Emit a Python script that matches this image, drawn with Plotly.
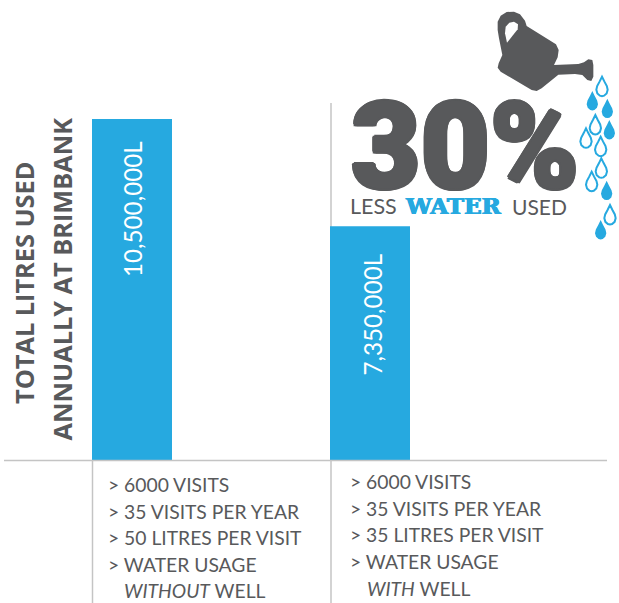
import plotly.graph_objects as go

W, H = 619, 603
categories = [0, 1]
bar_values = [10500000, 7205000]
bar_labels = ["10,500,000L", "7,350,000L"]
title_lines = ["TOTAL LITRES USED", "ANNUALLY AT BRIMBANK"]
left_notes = ["&gt; 6000 VISITS", "&gt; 35 VISITS PER YEAR", "&gt; 50 LITRES PER VISIT", "&gt; WATER USAGE", "<i>WITHOUT</i> WELL"]
right_notes = ["&gt; 6000 VISITS", "&gt; 35 VISITS PER YEAR", "&gt; 35 LITRES PER VISIT", "&gt; WATER USAGE", "<i>WITH</i> WELL"]

GREY = "#58595b"
BLUE = "#26a9e0"
LINE = "#c4c4c4"
BODY = "Lato"
px = lambda x: x / W
py = lambda y: 1 - y / H

# decorative icon geometry in page pixels
def path(points):
    return "M " + " L ".join(f"{px(x):.5f},{py(y):.5f}" for x, y in points) + " Z"

def zoomed(points):
    return [(330 + x / 3, y / 3) for x, y in points]

can = [(503,65),(512,47),(530,36),(552,35),(570,43),(585,62),(590,78),(678,133),(686,150),(683,172),(672,195),
       (745,192),(762,187),(775,178),(787,180),(790,195),(790,230),(784,243),(772,240),(757,225),(735,222),(685,224),
       (635,265),(620,273),(605,270),(512,215),(503,203),(506,190),(517,165),(507,115),(503,90)]
hole = [(531,128),(525,100),(527,80),(538,68),(552,65),(564,73),(563,88)]

def drop(cx, cy, s=1.05):
    pts = [(cx, cy - 9.5 * s), (cx + 2.2*s, cy - 5*s), (cx + 4.6*s, cy - 0.5*s), (cx + 5.4*s, cy + 3*s), (cx + 4.4*s, cy + 6.5*s),
           (cx + 2*s, cy + 8.6*s), (cx, cy + 9*s), (cx - 2*s, cy + 8.6*s), (cx - 4.4*s, cy + 6.5*s), (cx - 5.4*s, cy + 3*s),
           (cx - 4.6*s, cy - 0.5*s), (cx - 2.2*s, cy - 5*s)]
    return pts

solid_drops = [(787,303),(832,326),(838,390),(830,572),(812,690)]
open_drops = [(816,260),(796,375),(768,415),(812,440),(814,505),(785,545),(840,645)]

shapes = [
    dict(type="line", xref="paper", yref="paper", x0=px(4), x1=px(607), y0=py(460.5), y1=py(460.5), line=dict(color=LINE, width=1.5)),
    dict(type="line", xref="paper", yref="paper", x0=px(92.5), x1=px(92.5), y0=py(460), y1=py(603), line=dict(color=LINE, width=1.5)),
    dict(type="line", xref="paper", yref="paper", x0=px(331), x1=px(331), y0=py(103), y1=py(603), layer="below", line=dict(color=LINE, width=1.5)),
    dict(type="path", xref="paper", yref="paper", path=path(zoomed(can)), fillcolor=GREY, line=dict(color=GREY, width=0)),
    dict(type="path", xref="paper", yref="paper", path=path(zoomed(hole)), fillcolor="white", line=dict(color="white", width=0)),
]
for x, y in solid_drops:
    cx, cy = 330 + x / 3, y / 3
    shapes.append(dict(type="path", xref="paper", yref="paper", path=path(drop(cx, cy)), fillcolor=BLUE, line=dict(color=BLUE, width=0)))
for x, y in open_drops:
    cx, cy = 330 + x / 3, y / 3
    shapes.append(dict(type="path", xref="paper", yref="paper", path=path(drop(cx, cy)), fillcolor="white", line=dict(color=BLUE, width=2)))

def note(x, y, text, size=19.3, color=GREY, family=BODY, weight=400, angle=0, anchor="left", shadow=None):
    font = dict(family=family, size=size, color=color, weight=weight)
    if shadow:
        font["shadow"] = shadow
    return dict(xref="paper", yref="paper", x=px(x), y=py(y), text=text, showarrow=False, xanchor=anchor, yanchor="middle",
                textangle=angle, font=font, borderpad=0, borderwidth=0)

anns = []
for i, (txt, y) in enumerate(zip(left_notes, [484.5, 511.5, 537.5, 564.5, 590.5])):
    anns.append(note(124 if i == 4 else 107.5, y, txt))
for i, (txt, y) in enumerate(zip(right_notes, [481.5, 508.5, 534.5, 561.5, 588.5])):
    anns.append(note(366.5 if i == 4 else 350, y, txt))
anns.append(note(24, 283, title_lines[0], size=25.3, weight=700, angle=-90, anchor="center", family="Open Sans"))
anns.append(note(61.5, 279, title_lines[1], size=25.3, weight=700, angle=-90, anchor="center", family="Open Sans"))
anns.append(note(132, 209, bar_labels[0], size=24.2, color="white", angle=-90, anchor="center"))
anns.append(note(371.5, 315, bar_labels[1], size=24.2, color="white", angle=-90, anchor="center"))
thick = "2px 0 0 #58595b,-2px 0 0 #58595b,0 2px 0 #58595b,0 -2px 0 #58595b,1.5px 1.5px 0 #58595b,-1.5px -1.5px 0 #58595b,1.5px -1.5px 0 #58595b,-1.5px 1.5px 0 #58595b"
anns.append(note(351, 147, "30%", size=120, weight=900, family="Roboto", shadow=thick))
anns.append(note(350, 206, "LESS", size=21.5))
slab = "0.6px 0 0 #26a9e0,-0.6px 0 0 #26a9e0,0 0.4px 0 #26a9e0"
anns.append(note(405, 205, "WATER", size=23, color=BLUE, weight=700, family="DejaVu Serif", shadow=slab))
anns.append(note(511.5, 206, "USED", size=21))

fig = go.Figure(go.Bar(x=categories, y=bar_values, width=80 / 238, marker=dict(color=BLUE, line=dict(width=0)), hoverinfo="skip"))
k = 10500000 / 341.5
fig.update_layout(
    width=W, height=H, autosize=False, margin=dict(l=0, r=0, t=0, b=0),
    paper_bgcolor="white", plot_bgcolor="white", showlegend=False,
    xaxis=dict(range=[-132 / 238, (W - 132) / 238], visible=False),
    yaxis=dict(range=[-(H - 460.5) * k, 460.5 * k], visible=False),
    shapes=shapes, annotations=anns,
)
fig.write_html("out.html", post_script="document.body.style.margin='0';", config=dict(displayModeBar=False))
